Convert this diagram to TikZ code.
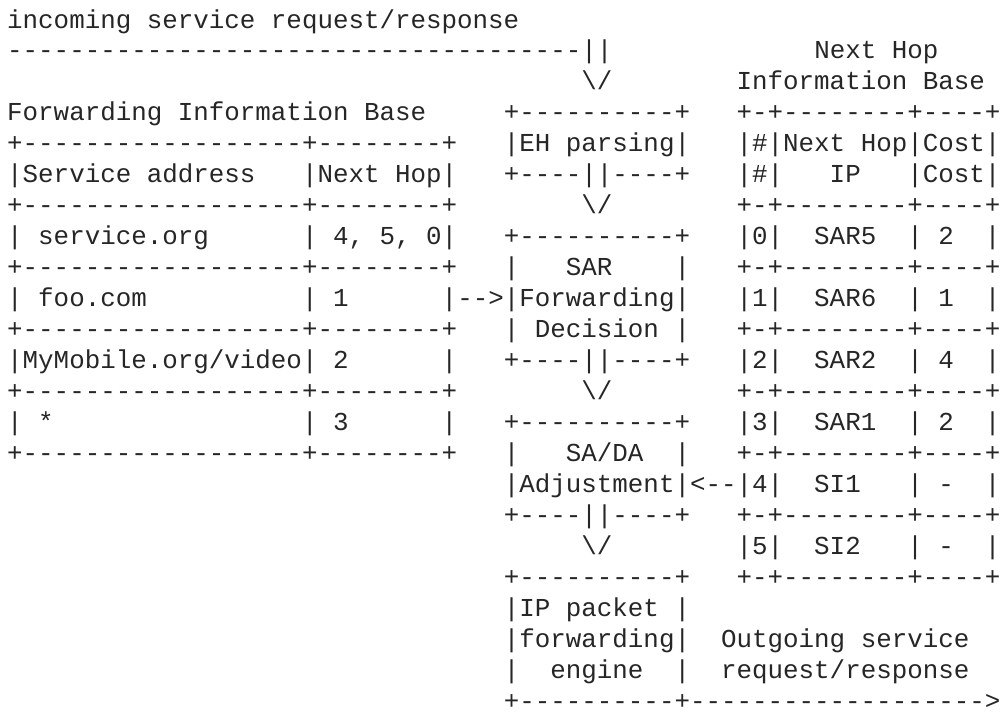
\documentclass[tikz,border=0pt]{standalone}
\usepackage{fontspec}
\setmonofont{Liberation Mono}
\tikzset{asc/.style={anchor=base west, inner sep=0pt, outer sep=0pt, text=black!85,
  font=\ttfamily\fontsize{25.86pt}{31pt}\selectfont}}
\newcommand\seg[4]{\node[asc] (#1) at ({7.2pt+#2*15.52pt},{-28pt-(#3-1)*30.98pt}) {#4};}
\begin{document}
\begin{tikzpicture}
\fill[white] (0,0) rectangle (1008pt,-713pt);
\useasboundingbox (0,0) rectangle (1008pt,-713pt);
% incoming flow
\seg{in1}{0}{1}{incoming service request/response}
\seg{in2}{0}{2}{-------------------------------------||}
\seg{dn1}{37}{3}{\textbackslash/}
% Forwarding Information Base
\seg{fibt}{0}{4}{Forwarding Information Base}
\seg{fib5}{0}{5}{+------------------+--------+}
\seg{fib6}{0}{6}{|Service address~~~|Next Hop|}
\seg{fib7}{0}{7}{+------------------+--------+}
\seg{fib8}{0}{8}{|~service.org~~~~~~|~4,~5,~0|}
\seg{fib9}{0}{9}{+------------------+--------+}
\seg{fib10}{0}{10}{|~foo.com~~~~~~~~~~|~1~~~~~~|}
\seg{fib11}{0}{11}{+------------------+--------+}
\seg{fib12}{0}{12}{|MyMobile.org/video|~2~~~~~~|}
\seg{fib13}{0}{13}{+------------------+--------+}
\seg{fib14}{0}{14}{|~*~~~~~~~~~~~~~~~~|~3~~~~~~|}
\seg{fib15}{0}{15}{+------------------+--------+}
\seg{arr1}{29}{10}{-{}->}
% centre column
\seg{eh4}{32}{4}{+----------+}
\seg{eh5}{32}{5}{|EH parsing|}
\seg{eh6}{32}{6}{+----||----+}
\seg{dn2}{37}{7}{\textbackslash/}
\seg{sar8}{32}{8}{+----------+}
\seg{sar9}{32}{9}{|~~~SAR~~~~|}
\seg{sar10}{32}{10}{|Forwarding|}
\seg{sar11}{32}{11}{|~Decision~|}
\seg{sar12}{32}{12}{+----||----+}
\seg{dn3}{37}{13}{\textbackslash/}
\seg{sa14}{32}{14}{+----------+}
\seg{sa15}{32}{15}{|~~~SA/DA~~|}
\seg{sa16}{32}{16}{|Adjustment|}
\seg{sa17}{32}{17}{+----||----+}
\seg{dn4}{37}{18}{\textbackslash/}
\seg{ip19}{32}{19}{+----------+}
\seg{ip20}{32}{20}{|IP packet~|}
\seg{ip21}{32}{21}{|forwarding|}
\seg{ip22}{32}{22}{|~~engine~~|}
\seg{ip23}{32}{23}{+----------+------------------->}
\seg{arr2}{44}{16}{<-{}-}
% Next Hop Information Base
\seg{nht1}{52}{2}{Next Hop}
\seg{nht2}{47}{3}{Information Base}
\seg{nh4}{47}{4}{+-+--------+----+}
\seg{nh5}{47}{5}{|\#|Next Hop|Cost|}
\seg{nh6}{47}{6}{|\#|~~~IP~~~|Cost|}
\seg{nh7}{47}{7}{+-+--------+----+}
\seg{nh8}{47}{8}{|0|~~SAR5~~|~2~~|}
\seg{nh9}{47}{9}{+-+--------+----+}
\seg{nh10}{47}{10}{|1|~~SAR6~~|~1~~|}
\seg{nh11}{47}{11}{+-+--------+----+}
\seg{nh12}{47}{12}{|2|~~SAR2~~|~4~~|}
\seg{nh13}{47}{13}{+-+--------+----+}
\seg{nh14}{47}{14}{|3|~~SAR1~~|~2~~|}
\seg{nh15}{47}{15}{+-+--------+----+}
\seg{nh16}{47}{16}{|4|~~SI1~~~|~-~~|}
\seg{nh17}{47}{17}{+-+--------+----+}
\seg{nh18}{47}{18}{|5|~~SI2~~~|~-~~|}
\seg{nh19}{47}{19}{+-+--------+----+}
% outgoing
\seg{out1}{46}{21}{Outgoing service}
\seg{out2}{46}{22}{request/response}
\end{tikzpicture}
\end{document}
